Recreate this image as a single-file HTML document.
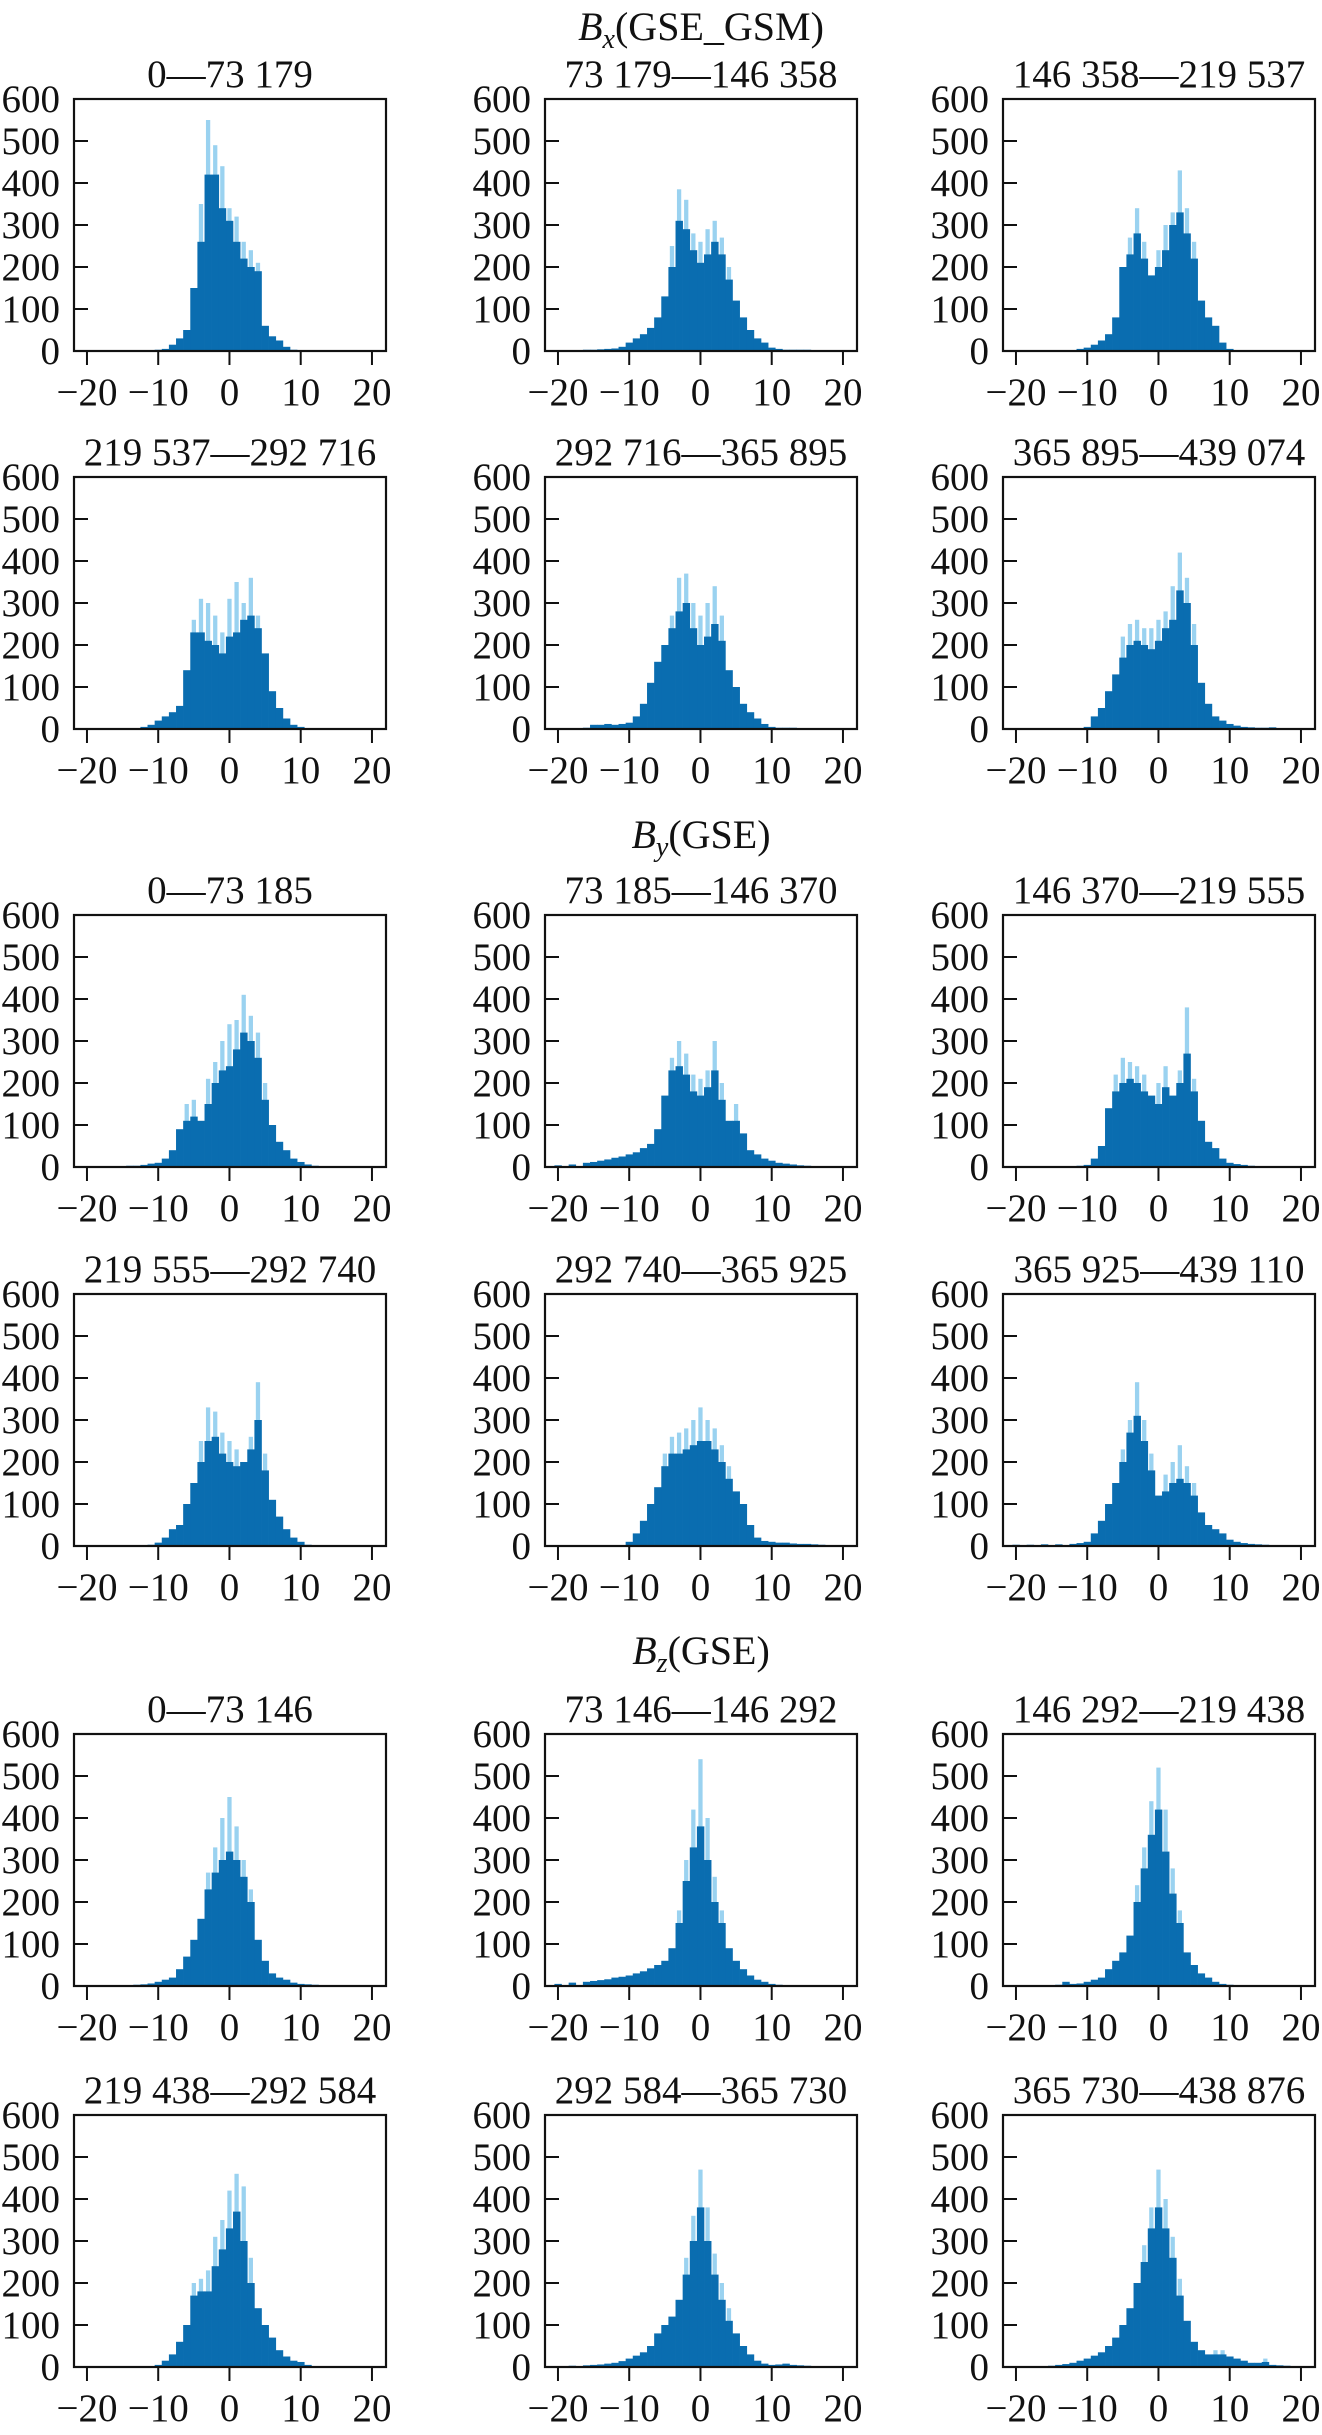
<!DOCTYPE html>
<html><head><meta charset="utf-8">
<style>
html,body{margin:0;padding:0;background:#fff;}
svg{display:block;}
text{font-family:"Liberation Serif",serif;fill:#111;}
</style></head>
<body>
<svg id="fig" width="1322" height="2435" viewBox="0 0 1322 2435" xmlns="http://www.w3.org/2000/svg">
<text x="701" y="40" font-size="40" text-anchor="middle"><tspan font-style="italic">B</tspan><tspan font-style="italic" font-size="28" dy="8">x</tspan><tspan dy="-8">(GSE_GSM)</tspan></text>
<text x="701" y="848" font-size="40" text-anchor="middle"><tspan font-style="italic">B</tspan><tspan font-style="italic" font-size="28" dy="8">y</tspan><tspan dy="-8">(GSE)</tspan></text>
<text x="701" y="1664" font-size="40" text-anchor="middle"><tspan font-style="italic">B</tspan><tspan font-style="italic" font-size="28" dy="8">z</tspan><tspan dy="-8">(GSE)</tspan></text>
</svg>
<script>
// ---- data ----
const panelTitles = [
 "0—73 179","73 179—146 358","146 358—219 537","219 537—292 716","292 716—365 895","365 895—439 074",
 "0—73 185","73 185—146 370","146 370—219 555","219 555—292 740","292 740—365 925","365 925—439 110",
 "0—73 146","73 146—146 292","146 292—219 438","219 438—292 584","292 584—365 730","365 730—438 876"];
const yTicks = [0,100,200,300,400,500,600];
const xTicks = [-20,-10,0,10,20];
const xTickLabels = ["−20","−10","0","10","20"];

const darkBx1 = {"-12":1,"-11":2,"-10":3,"-9":5,"-8":15,"-7":30,"-6":50,"-5":150,"-4":260,"-3":420,"-2":420,"-1":340,"0":310,"1":260,"2":220,"3":200,"4":190,"5":60,"6":35,"7":25,"8":10,"9":3,"10":1};
const lightBx1 = {"-4":350,"-3":550,"-2":490,"-1":440,"0":340,"1":320,"2":260,"3":240,"4":210};
const darkBx2 = {"-16":3,"-15":3,"-14":4,"-13":5,"-12":6,"-11":10,"-10":20,"-9":30,"-8":40,"-7":55,"-6":80,"-5":130,"-4":200,"-3":310,"-2":290,"-1":240,"0":210,"1":230,"2":260,"3":230,"4":170,"5":120,"6":80,"7":50,"8":30,"9":20,"10":8,"11":5,"12":3,"13":3,"14":3,"15":3,"16":2,"18":1};
const lightBx2 = {"-4":250,"-3":385,"-2":360,"-1":280,"0":260,"1":290,"2":310,"3":270,"4":200};
const darkBx3 = {"-12":2,"-11":5,"-10":8,"-9":15,"-8":25,"-7":40,"-6":80,"-5":200,"-4":230,"-3":280,"-2":220,"-1":180,"0":200,"1":240,"2":300,"3":330,"4":280,"5":220,"6":120,"7":80,"8":60,"9":20,"10":5,"11":2};
const lightBx3 = {"-4":270,"-3":340,"-2":260,"0":240,"1":300,"2":330,"3":430,"4":340,"5":260};
const darkBx4 = {"-13":2,"-12":5,"-11":10,"-10":20,"-9":30,"-8":40,"-7":55,"-6":140,"-5":230,"-4":230,"-3":210,"-2":200,"-1":180,"0":220,"1":230,"2":260,"3":270,"4":240,"5":180,"6":90,"7":50,"8":25,"9":10,"10":5,"11":2};
const lightBx4 = {"-5":260,"-4":310,"-3":300,"-2":270,"-1":230,"0":310,"1":350,"2":300,"3":360,"4":270};
const darkBx5 = {"-16":3,"-15":10,"-14":10,"-13":12,"-12":10,"-11":12,"-10":15,"-9":30,"-8":60,"-7":110,"-6":160,"-5":200,"-4":240,"-3":280,"-2":300,"-1":240,"0":200,"1":220,"2":250,"3":210,"4":140,"5":100,"6":60,"7":40,"8":25,"9":12,"10":5,"11":3,"12":3,"13":3,"14":2,"15":2};
const lightBx5 = {"-4":270,"-3":360,"-2":370,"-1":300,"0":270,"1":300,"2":340,"3":270};
const darkBx6 = {"-10":5,"-9":30,"-8":50,"-7":90,"-6":130,"-5":170,"-4":200,"-3":210,"-2":200,"-1":190,"0":210,"1":240,"2":260,"3":330,"4":300,"5":200,"6":110,"7":60,"8":30,"9":20,"10":12,"11":8,"12":5,"13":4,"14":3,"15":3,"16":4,"17":2};
const lightBx6 = {"-5":220,"-4":250,"-3":260,"-2":240,"-1":240,"0":260,"1":280,"2":340,"3":420,"4":360,"5":250};

const darkBy1 = {"-15":2,"-14":3,"-13":3,"-12":5,"-11":8,"-10":10,"-9":20,"-8":40,"-7":90,"-6":110,"-5":120,"-4":110,"-3":150,"-2":200,"-1":230,"0":240,"1":280,"2":320,"3":300,"4":260,"5":160,"6":100,"7":60,"8":40,"9":20,"10":12,"11":6,"12":3};
const lightBy1 = {"-6":150,"-5":160,"-3":210,"-2":250,"-1":300,"0":340,"1":350,"2":410,"3":360,"4":320,"5":200};
const darkBy2 = {"-20":4,"-18":6,"-16":10,"-15":12,"-14":15,"-13":18,"-12":22,"-11":25,"-10":30,"-9":35,"-8":45,"-7":55,"-6":90,"-5":170,"-4":230,"-3":240,"-2":220,"-1":180,"0":170,"1":190,"2":230,"3":160,"4":110,"5":110,"6":80,"7":40,"8":30,"9":20,"10":15,"11":10,"12":8,"13":6,"14":4,"15":3,"16":2};
const lightBy2 = {"-4":260,"-3":300,"-2":270,"-1":220,"0":210,"1":230,"2":300,"3":200,"5":150};
const darkBy3 = {"-12":2,"-11":3,"-10":5,"-9":20,"-8":50,"-7":140,"-6":180,"-5":200,"-4":210,"-3":200,"-2":180,"-1":170,"0":150,"1":190,"2":170,"3":200,"4":270,"5":180,"6":110,"7":60,"8":45,"9":20,"10":10,"11":7,"12":5,"13":3,"14":2};
const lightBy3 = {"-6":220,"-5":260,"-4":250,"-3":240,"-2":220,"0":200,"1":240,"3":230,"4":380,"5":210};
const darkBy4 = {"-12":2,"-11":3,"-10":8,"-9":20,"-8":40,"-7":50,"-6":100,"-5":150,"-4":200,"-3":250,"-2":260,"-1":220,"0":200,"1":190,"2":200,"3":230,"4":300,"5":180,"6":110,"7":70,"8":40,"9":20,"10":10,"11":3};
const lightBy4 = {"-4":250,"-3":330,"-2":320,"-1":270,"0":250,"1":230,"3":260,"4":390,"5":220};
const darkBy5 = {"-10":10,"-9":30,"-8":60,"-7":100,"-6":140,"-5":190,"-4":220,"-3":220,"-2":230,"-1":240,"0":250,"1":250,"2":230,"3":200,"4":160,"5":130,"6":100,"7":50,"8":20,"9":12,"10":10,"11":8,"12":8,"13":6,"14":5,"15":5,"16":4,"17":3,"18":2,"19":2};
const lightBy5 = {"-5":220,"-4":260,"-3":270,"-2":280,"-1":300,"0":330,"1":300,"2":280,"3":240,"4":190};
const darkBy6 = {"-20":3,"-18":3,"-16":4,"-14":4,"-12":5,"-11":7,"-10":10,"-9":30,"-8":60,"-7":100,"-6":150,"-5":200,"-4":270,"-3":310,"-2":250,"-1":180,"0":120,"1":130,"2":150,"3":160,"4":150,"5":120,"6":80,"7":50,"8":40,"9":30,"10":15,"11":10,"12":7,"13":5,"14":4,"15":3};
const lightBy6 = {"-5":230,"-4":300,"-3":390,"-2":300,"-1":220,"1":170,"2":200,"3":240,"4":190,"5":150};

const darkBz1 = {"-15":2,"-13":3,"-12":4,"-11":6,"-10":10,"-9":15,"-8":20,"-7":40,"-6":70,"-5":110,"-4":160,"-3":230,"-2":270,"-1":300,"0":320,"1":300,"2":260,"3":200,"4":110,"5":60,"6":30,"7":20,"8":15,"9":8,"10":5,"11":4,"12":3,"15":2};
const lightBz1 = {"-3":270,"-2":330,"-1":400,"0":450,"1":380,"2":300,"3":230};
const darkBz2 = {"-20":5,"-18":8,"-16":10,"-15":12,"-14":14,"-13":16,"-12":20,"-11":22,"-10":25,"-9":30,"-8":35,"-7":42,"-6":50,"-5":60,"-4":90,"-3":150,"-2":250,"-1":330,"0":380,"1":300,"2":200,"3":150,"4":90,"5":60,"6":40,"7":25,"8":15,"9":10,"10":5,"11":3,"12":2};
const lightBz2 = {"-3":180,"-2":300,"-1":420,"0":540,"1":400,"2":260,"3":180};
const darkBz3 = {"-16":2,"-14":3,"-13":10,"-12":5,"-11":6,"-10":10,"-9":15,"-8":20,"-7":40,"-6":60,"-5":80,"-4":120,"-3":200,"-2":280,"-1":360,"0":420,"1":320,"2":220,"3":150,"4":80,"5":50,"6":30,"7":20,"8":10,"9":5,"10":3,"12":2,"15":2,"18":2};
const lightBz3 = {"-3":240,"-2":330,"-1":440,"0":520,"1":420,"2":280,"3":180};
const darkBz4 = {"-11":2,"-10":5,"-9":15,"-8":30,"-7":60,"-6":100,"-5":170,"-4":180,"-3":180,"-2":240,"-1":280,"0":330,"1":370,"2":300,"3":200,"4":140,"5":100,"6":70,"7":40,"8":25,"9":15,"10":12,"11":5,"12":2};
const lightBz4 = {"-5":200,"-4":210,"-3":230,"-2":310,"-1":350,"0":420,"1":460,"2":430,"3":260};
const darkBz5 = {"-18":3,"-16":4,"-15":5,"-14":6,"-13":8,"-12":10,"-11":14,"-10":20,"-9":27,"-8":35,"-7":50,"-6":80,"-5":100,"-4":120,"-3":160,"-2":220,"-1":300,"0":380,"1":300,"2":220,"3":160,"4":110,"5":80,"6":50,"7":30,"8":15,"9":8,"10":5,"11":6,"12":8,"13":5,"14":4,"15":3};
const lightBz5 = {"-2":260,"-1":360,"0":470,"1":380,"2":270,"3":200,"4":140};
const darkBz6 = {"-18":2,"-15":3,"-14":5,"-13":7,"-12":10,"-11":15,"-10":20,"-9":27,"-8":35,"-7":50,"-6":70,"-5":100,"-4":140,"-3":200,"-2":250,"-1":330,"0":380,"1":330,"2":260,"3":170,"4":110,"5":60,"6":40,"7":30,"8":30,"9":30,"10":25,"11":20,"12":15,"13":10,"14":10,"15":12,"16":5,"17":4,"18":3,"20":2};
const lightBz6 = {"-2":290,"-1":380,"0":470,"1":400,"2":310,"3":210,"8":40,"9":40,"15":20};

const darkSeries = [darkBx1,darkBx2,darkBx3,darkBx4,darkBx5,darkBx6,darkBy1,darkBy2,darkBy3,darkBy4,darkBy5,darkBy6,darkBz1,darkBz2,darkBz3,darkBz4,darkBz5,darkBz6];
const lightSeries = [lightBx1,lightBx2,lightBx3,lightBx4,lightBx5,lightBx6,lightBy1,lightBy2,lightBy3,lightBy4,lightBy5,lightBy6,lightBz1,lightBz2,lightBz3,lightBz4,lightBz5,lightBz6];

// ---- layout ----
const colLeft = [74,545,1003];
const rowTop = [99,477,915,1294,1734,2115];
const W = 312, H = 252;
const X0 = -21.82, X1 = 21.97, YMAX = 600;
const NS = "http://www.w3.org/2000/svg";
const svg = document.getElementById('fig');
function mk(tag, attrs, parent){
  const e = document.createElementNS(NS, tag);
  for (const k in attrs) e.setAttribute(k, attrs[k]);
  (parent||svg).appendChild(e);
  return e;
}
for (let p = 0; p < 18; p++) {
  const L = colLeft[p % 3], T = rowTop[Math.floor(p / 3)];
  const xs = v => L + (v - X0) / (X1 - X0) * W;
  const ys = v => T + H - v / YMAX * H;
  const g = mk('g', {});
  
  
  const title = mk('text', {x: L + W / 2, y: T - 12, 'font-size': 39, 'text-anchor': 'middle'}, g);
  
  
  title.textContent = panelTitles[p];
  const ls = lightSeries[p];
  for (const k in ls) {
    const b = parseFloat(k), v = ls[k];
    const r = mk('rect', {x: xs(b - 0.3), y: ys(v), width: xs(b + 0.3) - xs(b - 0.3), height: ys(0) - ys(v), fill: '#9ad2f0'}, g);
    
    
  }
  const ds = darkSeries[p];
  for (const k in ds) {
    const b = parseFloat(k), v = ds[k];
    const r = mk('rect', {x: xs(b - 0.5), y: ys(v), width: xs(b + 0.5) - xs(b - 0.5) + 0.3, height: ys(0) - ys(v), fill: '#0a6db0'}, g);
    
    
  }
  const box = mk('rect', {x: L, y: T, width: W, height: H, fill: 'none', stroke: '#111', 'stroke-width': 2.2}, g);
  
  
  yTicks.forEach(t => {
    mk('line', {x1: L, x2: L + 14, y1: ys(t), y2: ys(t), stroke: '#111', 'stroke-width': 2}, g);
    const lab = mk('text', {x: L - 14, y: ys(t) + 13, 'font-size': 39, 'text-anchor': 'end'}, g);
    
    
    lab.textContent = t;
  });
  xTicks.forEach((t, i) => {
    mk('line', {x1: xs(t), x2: xs(t), y1: T + H, y2: T + H + 14, stroke: '#111', 'stroke-width': 2}, g);
    const lab = mk('text', {x: xs(t), y: T + H + 54, 'font-size': 39, 'text-anchor': 'middle'}, g);
    
    
    lab.textContent = xTickLabels[i];
  });
}
</script>
</body></html>
